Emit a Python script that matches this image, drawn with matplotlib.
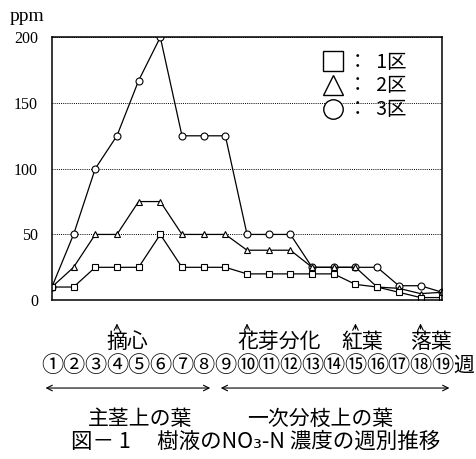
import numpy as np
import matplotlib
matplotlib.use('Agg')
import matplotlib.pyplot as plt
from matplotlib.lines import Line2D

plt.rcParams['font.family'] = ['Noto Sans CJK JP', 'DejaVu Sans']

weeks = list(range(1, 20))
ku1 = [10, 10, 25, 25, 25, 50, 25, 25, 25, 20, 20, 20, 20, 20, 12, 10, 6, 2, 2]
ku2 = [10, 25, 50, 50, 75, 75, 50, 50, 50, 38, 38, 38, 25, 25, 25, 10, 9, 5, 6]
ku3 = [10, 50, 100, 125, 167, 200, 125, 125, 125, 50, 50, 50, 25, 25, 25, 25, 11, 11, 6]
legend_labels = ['：  1区', '：  2区', '：  3区']
yticks = [0, 50, 100, 150, 200]

week_marks = ['①', '②', '③', '④', '⑤', '⑥', '⑦', '⑧', '⑨', '⑩',
              '⑪', '⑫', '⑬', '⑭', '⑮', '⑯', '⑰', '⑱', '⑲']
events = [(4, '摘心', 4.5), (10, '花芽分化', 11.5), (15, '紅葉', 15.3), (18, '落葉', 18.5)]

serif = {'family': 'Liberation Serif', 'size': 11.5}

fig = plt.figure(figsize=(4.76, 4.59), dpi=100)
ax = fig.add_axes([0.109, 0.346, 0.82, 0.573])

mk = dict(color='black', lw=0.9, markersize=5, markerfacecolor='white',
          markeredgecolor='black', markeredgewidth=0.8)
ax.plot(weeks, ku3, marker='o', **mk)
ax.plot(weeks, ku2, marker='^', **mk)
ax.plot(weeks, ku1, marker='s', **mk)

ax.set_xlim(1, 19)
ax.set_ylim(0, 200)
ax.set_xticks([])
ax.set_yticks(yticks)
ax.set_yticklabels([str(v) for v in yticks], fontdict=serif)
ax.tick_params(axis='y', length=0, pad=10)
ax.yaxis.grid(True, linestyle=(0, (1, 1.2)), color='black', lw=0.7)
for s in ax.spines.values():
    s.set_linewidth(1.1)
ax.text(-0.107, 1.045, 'ppm', transform=ax.transAxes, family='Liberation Serif',
        fontsize=14, va='bottom', ha='left')

handles = [Line2D([], [], ls='none', marker=m, markersize=14, markerfacecolor='white',
                  markeredgecolor='black', markeredgewidth=1.0) for m in ['s', '^', 'o']]
ax.legend(handles, legend_labels, loc='upper left', bbox_to_anchor=(0.67, 0.975),
          frameon=False, fontsize=14, handletextpad=0.2, labelspacing=0.15,
          borderaxespad=0, handlelength=1.2)

tr = ax.get_xaxis_transform()
for wk, lab, tx in events:
    ax.annotate('', xy=(wk, -0.078), xytext=(wk, -0.12), xycoords=tr, textcoords=tr,
                arrowprops=dict(arrowstyle='->', lw=0.8, color='black'))
    ax.text(tx, -0.16, lab, transform=tr, ha='center', va='center', fontsize=15)

for wk, m in zip(weeks, week_marks):
    ax.text(wk, -0.25, m, transform=tr, ha='center', va='center', fontsize=16)
ax.text(20, -0.25, '週', transform=tr, ha='center', va='center', fontsize=15)

ax.annotate('', xy=(0.58, -0.334), xytext=(8.43, -0.334), xycoords=tr, textcoords=tr,
            arrowprops=dict(arrowstyle='<->', lw=0.8, color='black'))
ax.annotate('', xy=(8.66, -0.334), xytext=(19.46, -0.334), xycoords=tr, textcoords=tr,
            arrowprops=dict(arrowstyle='<->', lw=0.8, color='black'))
ax.text(5.06, -0.45, '主茎上の葉', transform=tr, ha='center', va='center', fontsize=15)
ax.text(13.37, -0.45, '一次分枝上の葉', transform=tr, ha='center', va='center', fontsize=15)

fig.text(0.536, 0.038, '図－ 1　 樹液のNO₃-N 濃度の週別推移', ha='center', va='center',
         fontsize=15.5)

fig.savefig('out.png', dpi=100)
